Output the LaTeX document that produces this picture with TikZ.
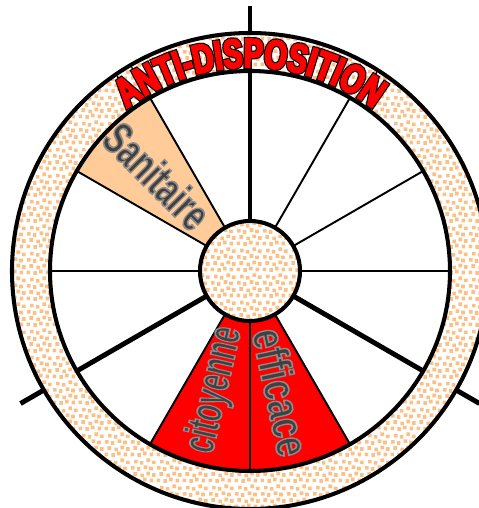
\documentclass[tikz,border=0pt]{standalone}
\usepackage{fontspec}
\usepackage{tikz}
\usetikzlibrary{
	patterns,
	decorations.text
}

\newfontfamily\rimfont[FakeStretch=0.72]{Liberation Sans Bold}
\newfontfamily\wordfont{Liberation Sans Bold}

\definecolor{rimpeach}{RGB}{252,192,135}
\definecolor{sectorpeach}{RGB}{255,204,153}
\definecolor{sectorred}{RGB}{255,0,0}
\definecolor{wordgray}{RGB}{64,64,64}

% outline round the letters (pdf text render mode: fill + stroke)
\newcommand{\rimstroke}{\special{pdf:literal direct 0 0 0 RG 2 Tr 2.4 w}}
\newcommand{\rimfill}{\special{pdf:literal direct 1 0 0 RG 2 Tr 1.1 w}}
\newcommand{\wordstroke}{\special{pdf:literal direct 0.55 0.55 0.55 RG 2 Tr 1.0 w}}

% speckled fill of the rim and the hub
\pgfdeclarepatternformonly{sanddots}{\pgfqpoint{0pt}{0pt}}{\pgfqpoint{15pt}{15pt}}{\pgfqpoint{15pt}{15pt}}{%
  \pgfpathrectangle{\pgfqpoint{0.3pt}{0.5pt}}{\pgfqpoint{2.1pt}{2.1pt}}%
  \pgfpathrectangle{\pgfqpoint{4.3pt}{0.1pt}}{\pgfqpoint{2.1pt}{2.1pt}}%
  \pgfpathrectangle{\pgfqpoint{7.6pt}{1.0pt}}{\pgfqpoint{2.1pt}{2.1pt}}%
  \pgfpathrectangle{\pgfqpoint{11.4pt}{0.4pt}}{\pgfqpoint{2.1pt}{2.1pt}}%
  \pgfpathrectangle{\pgfqpoint{2.0pt}{4.2pt}}{\pgfqpoint{2.1pt}{2.1pt}}%
  \pgfpathrectangle{\pgfqpoint{6.0pt}{3.4pt}}{\pgfqpoint{2.1pt}{2.1pt}}%
  \pgfpathrectangle{\pgfqpoint{9.6pt}{4.5pt}}{\pgfqpoint{2.1pt}{2.1pt}}%
  \pgfpathrectangle{\pgfqpoint{12.8pt}{3.6pt}}{\pgfqpoint{2.1pt}{2.1pt}}%
  \pgfpathrectangle{\pgfqpoint{0.6pt}{7.8pt}}{\pgfqpoint{2.1pt}{2.1pt}}%
  \pgfpathrectangle{\pgfqpoint{4.0pt}{7.1pt}}{\pgfqpoint{2.1pt}{2.1pt}}%
  \pgfpathrectangle{\pgfqpoint{8.0pt}{8.2pt}}{\pgfqpoint{2.1pt}{2.1pt}}%
  \pgfpathrectangle{\pgfqpoint{11.2pt}{7.4pt}}{\pgfqpoint{2.1pt}{2.1pt}}%
  \pgfpathrectangle{\pgfqpoint{2.4pt}{11.4pt}}{\pgfqpoint{2.1pt}{2.1pt}}%
  \pgfpathrectangle{\pgfqpoint{5.7pt}{10.7pt}}{\pgfqpoint{2.1pt}{2.1pt}}%
  \pgfpathrectangle{\pgfqpoint{9.6pt}{12.2pt}}{\pgfqpoint{2.1pt}{2.1pt}}%
  \pgfpathrectangle{\pgfqpoint{12.8pt}{11.0pt}}{\pgfqpoint{2.1pt}{2.1pt}}%
  \pgfusepath{fill}}

\begin{document}
\begin{tikzpicture}[x=0.02cm, y=0.02cm,
	spoke/.style={line width=1.1pt},
	axisline/.style={line width=2.8pt},
	rimline/.style={line width=2.3pt},
	speckle/.style={pattern=sanddots, pattern color=rimpeach},
	wordlabel/.style={font=\wordfont\fontsize{26}{26}\selectfont, text=wordgray, inner sep=0pt}]

\useasboundingbox (-250,-237) rectangle (229,271);
\fill[white] (-250,-237) rectangle (229,271);

% Coloured sectors
\fill[sectorpeach] (0,0) -- (120:200) arc[start angle=120, end angle=150, radius=200] -- cycle;
\fill[sectorred] (0,0) -- (240:200) arc[start angle=240, end angle=300, radius=200] -- cycle;

% Thin spokes
\foreach \a in {0,30,60,120,150,180,240,270,300} {
    \draw[spoke] (\a:50) -- (\a:200);
}

% Thick axes, running out past the rim
\foreach \a in {90,210,330} {
    \draw[axisline] (0,0) -- (\a:265);
}

% Rim
\fill[white, even odd rule] (0,0) circle[radius=238] (0,0) circle[radius=200];
\fill[speckle, even odd rule] (0,0) circle[radius=238] (0,0) circle[radius=200];
\draw[rimline] (0,0) circle[radius=238];
\draw[rimline] (0,0) circle[radius=200];

% Hub
\fill[white] (0,0) circle[radius=50];
\fill[speckle] (0,0) circle[radius=50];
\draw[rimline] (0,0) circle[radius=50];

% Title along the rim: black outline first, red letters over it
\path[decorate, decoration={text along path, text align=center,
    text={|\rimfont\fontsize{23}{23}\selectfont\color{sectorred}\rimstroke|ANTI-DISPOSITION}}]
    (130:204) arc[start angle=130, end angle=50, radius=204];
\path[decorate, decoration={text along path, text align=center,
    text={|\rimfont\fontsize{23}{23}\selectfont\color{sectorred}\rimfill|ANTI-DISPOSITION}}]
    (130:204) arc[start angle=130, end angle=50, radius=204];

% Sector labels
\node[wordlabel, rotate=-45, xscale=0.67] (sanitaire) at (134.4:133) {\wordstroke Sanitaire};
\node[wordlabel, rotate=77, xscale=0.6] (citoyenne) at (253.6:124) {\wordstroke citoyenne};
\node[wordlabel, rotate=-78, xscale=0.76] (efficace) at (284.4:125) {\wordstroke efficace};

\end{tikzpicture}
\end{document}
